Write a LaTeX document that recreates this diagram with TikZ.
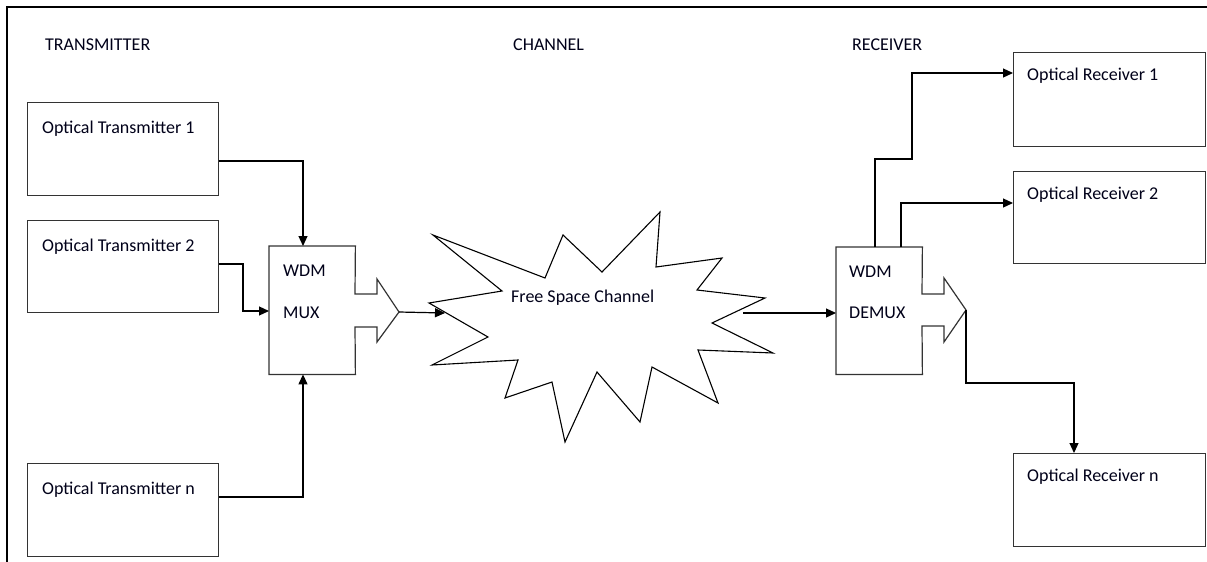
\documentclass[tikz,border=0pt]{standalone}
\usepackage{fontspec}
\setmainfont{Carlito}
\usetikzlibrary{arrows.meta,calc}
\begin{document}
\begin{tikzpicture}[x=1pt,y=-1pt,
  font=\fontsize{18}{21}\selectfont,
  boxline/.style={draw=black!80,line width=1.2pt},
  blockbox/.style={boxline,rectangle,inner sep=0pt,anchor=north west},
  txt/.style={anchor=base west,inner sep=0pt,text=black!90!blue},
  conn/.style={draw=black,line width=1.2pt,-{Triangle[length=10pt,width=9pt]}},
  plain/.style={draw=black,line width=1.2pt}]
\useasboundingbox (0,0) rectangle (1207,562);
\fill[white] (0,0) rectangle (1207,562);
% frame
\draw[line width=2.6pt] (7,562) -- (7,7) -- (1207,7);
% section titles
\node[txt] (ttx) at (45,50) {TRANSMITTER};
\node[txt] (tch) at (513,50) {CHANNEL};
\node[txt] (trx) at (852,50) {RECEIVER};
% transmitters
\node[blockbox,minimum width=191pt,minimum height=93pt] (tx1) at (27,102) {};
\node[blockbox,minimum width=191pt,minimum height=92pt] (tx2) at (27,220) {};
\node[blockbox,minimum width=191pt,minimum height=93pt] (txn) at (27,463) {};
\node[txt] (ltx1) at ($(tx1.north west)+(15,31)$) {Optical Transmitter 1};
\node[txt] (ltx2) at ($(tx2.north west)+(15,31)$) {Optical Transmitter 2};
\node[txt] (ltxn) at ($(txn.north west)+(15,31)$) {Optical Transmitter n};
% receivers
\node[blockbox,minimum width=192pt,minimum height=94pt] (rx1) at (1013,52) {};
\node[blockbox,minimum width=192pt,minimum height=92pt] (rx2) at (1013,171) {};
\node[blockbox,minimum width=192pt,minimum height=93pt] (rxn) at (1013,453) {};
\node[txt] (lrx1) at ($(rx1.north west)+(14,28)$) {Optical Receiver 1};
\node[txt] (lrx2) at ($(rx2.north west)+(14,28)$) {Optical Receiver 2};
\node[txt] (lrxn) at ($(rxn.north west)+(14,28)$) {Optical Receiver n};
% MUX
\node[rectangle,inner sep=0pt,anchor=north west,minimum width=86pt,minimum height=128pt] (mux) at (269,246) {};
\coordinate (muxtip) at (399,312);
\draw[boxline,fill=white] (mux.north west) -- (mux.north east) -- (355,294) -- (377,294) -- (377,279)
  -- (muxtip) -- (377,342) -- (377,327) -- (355,327) -- (mux.south east) -- (mux.south west) -- cycle;
\node[txt] (lmux1) at (283,276) {WDM};
\node[txt] (lmux2) at (283,318) {MUX};
% DEMUX
\node[rectangle,inner sep=0pt,anchor=north west,minimum width=86pt,minimum height=127pt] (demux) at (836,247) {};
\coordinate (demuxtip) at (966,310);
\draw[boxline,fill=white] (demux.north west) -- (demux.north east) -- (922,294) -- (944,294) -- (944,278)
  -- (demuxtip) -- (944,342) -- (944,326) -- (922,326) -- (demux.south east) -- (demux.south west) -- cycle;
\node[txt] (ldmx1) at (849,277) {WDM};
\node[txt] (ldmx2) at (849,318) {DEMUX};
% star (free space channel)
\draw[draw=black,line width=1.1pt,fill=white,line join=miter]
  (433,235) -- (545,278) -- (563,235) -- (602,272) -- (660,212) -- (656,267) -- (722,258) -- (697,290)
  -- (765,298) -- (712,323) -- (773,353) -- (698,350) -- (718,403) -- (652,367) -- (640,422) -- (597,372)
  -- (565,442) -- (552,382) -- (505,398) -- (518,360) -- (432,365) -- (488,337) -- (429,303) -- (502,291) -- cycle;
\node[txt] (fsc) at (511,302) {Free Space Channel};
\coordinate (starin) at (445,313);
\coordinate (starout) at (743,313);
% connectors transmit side
\coordinate (b1) at (303,161);
\draw[conn] (b1 -| tx1.east) -- (b1) -- (b1 |- mux.north);
\coordinate (b2) at (243,311);
\draw[conn] (tx2.east |- 0,264) -| (b2) -- (b2 -| mux.west);
\coordinate (b3) at (303,497);
\draw[conn] (b3 -| txn.east) -- (b3) -- (b3 |- mux.south);
\draw[conn] (muxtip) -- (starin);
\draw[conn] (starout) -- (starout -| demux.west);
% connectors receive side
\coordinate (d1) at (875,159);
\coordinate (c1) at (912,73);
\draw[conn] (d1 |- demux.north) -- (d1) -| (c1) -- (c1 -| rx1.west);
\coordinate (c2) at (901,203);
\draw[conn] (c2 |- demux.north) -- (c2) -- (c2 -| rx2.west);
\coordinate (c3) at (1074,383);
\draw[conn] (demuxtip) |- (c3) -- (c3 |- rxn.north);
\end{tikzpicture}
\end{document}
